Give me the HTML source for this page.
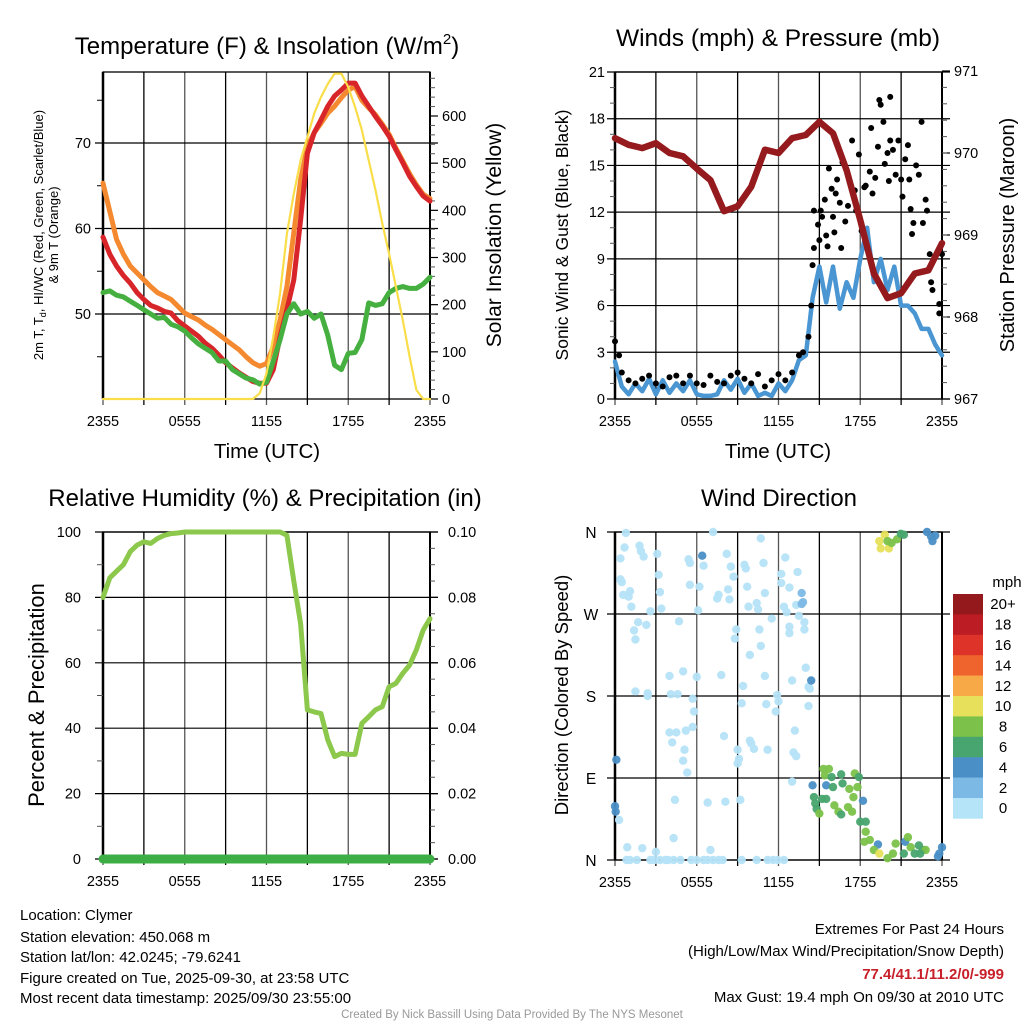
<!DOCTYPE html>
<html><head><meta charset="utf-8">
<style>
html,body{margin:0;padding:0;background:#fff;}
svg{display:block;font-family:"Liberation Sans",sans-serif;}
</style></head>
<body>
<svg id="chart" width="1024" height="1024" viewBox="0 0 1024 1024" xmlns="http://www.w3.org/2000/svg">
<rect width="1024" height="1024" fill="#fff"/>
<g id="p1"></g>
<g id="p2"></g>
<g id="p3"></g>
<g id="p4"></g>
<g font-size="15" fill="#000">
<text x="20" y="920">Location: Clymer</text>
<text x="20" y="942">Station elevation: 450.068 m</text>
<text x="20" y="962">Station lat/lon: 42.0245; -79.6241</text>
<text x="20" y="983">Figure created on Tue, 2025-09-30, at 23:58 UTC</text>
<text x="20" y="1003">Most recent data timestamp: 2025/09/30 23:55:00</text>
</g>
<g font-size="15" text-anchor="end">
<text x="1004" y="934">Extremes For Past 24 Hours</text>
<text x="1004" y="956">(High/Low/Max Wind/Precipitation/Snow Depth)</text>
<text x="1004" y="979" fill="#c8202a" font-weight="bold">77.4/41.1/11.2/0/-999</text>
<text x="1004" y="1002">Max Gust: 19.4 mph On 09/30 at 2010 UTC</text>
</g>
<text x="512" y="1018" font-size="11.5" fill="#999" text-anchor="middle">Created By Nick Bassill Using Data Provided By The NYS Mesonet</text>
</svg>
<script>
// ---------- data ----------
const hoursHalf = [];
for (let i = 0; i <= 48; i++) hoursHalf.push(i / 2);
const hoursFull = [];
for (let i = 0; i <= 24; i++) hoursFull.push(i);
const timeTickLabels = ["2355", "0555", "1155", "1755", "2355"];

const temp2m = [59,57,55.6,54.5,53.6,52.5,51.7,51,50.7,50.3,50.1,49.2,48.6,48,47.4,46.6,46,45.2,44.3,43.7,43.1,42.6,42.1,41.9,41.9,43.5,47.4,50.5,54,61,68.8,71.2,72.7,74.3,75.5,76.2,77,77,75.5,74.3,73.1,72,70.8,69.2,67.7,66.1,64.9,63.8,63.2];
const temp9m = [65.3,62,58.7,57,55.6,54.8,54,53.2,52.5,52.1,51.7,50.9,50.1,49.7,49.3,48.7,48.2,47.6,47,46.4,45.8,45,44.3,43.9,44.2,46.2,49.3,53.2,59.5,65.7,69.6,71.2,72.3,73.5,74.3,75.3,76.2,76.6,75,74.1,73.3,72.2,71,69.4,67.9,66.4,65.1,64,63.5];
const dewPoint = [52.5,52.7,52.2,52,51.5,51,50.5,50,49.5,49.6,48.8,48.5,48,47.2,46.5,46,45.5,44.5,44.5,43.5,43,42.5,42.3,41.8,42,44.5,47,50,51.2,50,50.3,49.5,50,47.5,44,43.5,45.4,45.5,47,51.3,51,51.2,52.5,53,53.2,53,53,53.5,54.3];
const solar = [0,0,0,0,0,0,0,0,0,0,0,0,0,0,0,0,0,0,0,0,0,0,0,12,54,132,224,350,435,506,555,605,640,668,690,690,661,619,570,506,443,372,308,238,167,90,19,0,0];
const tempTicks = [50, 60, 70];
const solarTicks = [0, 100, 200, 300, 400, 500, 600];

const windSpeed = [2.4,0.8,0.3,1,0.5,1.3,0.3,1.2,0.4,1,0.5,1.2,0.3,0.2,0.2,0.3,1.2,0.6,1.3,0.4,1,0.2,0.4,0.2,1,0.5,1.2,2.5,2.8,6.5,8.5,6.2,8.5,5.8,7.5,6.5,9,11,7.5,9,7,8.5,6,6,5.5,4.5,4.5,3.5,2.8];
const gustTime = [0,0.3,0.5,1,1.5,2,2.5,3,3.5,4,4.5,5,5.5,6,6.5,7,7.5,8,8.5,9,9.5,10,10.5,11,11.5,12,12.5,13,13.5,13.8,14.2,14.4,14.5,14.6,14.6,14.9,15,15.1,15.2,15.5,15.4,15.7,15.6,15.9,16,16.1,16.2,16.3,16.5,16.6,16.7,16.9,17.1,17.4,17.6,17.7,17.9,18.1,18.3,18.4,18.7,18.8,18.9,19.1,19.3,19.4,19.5,19.7,19.8,20,20.1,20.2,20.2,20.4,20.6,20.8,21,21.1,21.3,21.5,21.6,21.7,21.8,21.9,22.1,22.3,22.5,22.6,22.8,22.9,23.1,23.2,23.3,23.8,23.8,24];
const gustValue = [3.7,2.8,1.7,1.2,1,1.3,1.5,1,0.8,1.4,1.5,1,1.5,1,0.9,1.5,1.1,1,1.5,1.7,1.3,1,1.6,0.8,1.2,1.6,1.2,1.7,2.8,3,4,6,8.6,9.7,12.1,11.2,10.2,12.1,11.7,10.5,12.8,14.8,9.8,13.5,11.7,10.7,13.2,14.1,12.6,9.7,15.2,11.4,12.4,16.6,13.4,12.1,15.7,10.8,13.6,13.7,14.6,17.4,13.2,14.2,16.2,19.2,18.9,17.8,15.1,15.8,14,19.4,16.6,16,14.4,16.6,14.1,13,15.4,16.3,14.1,12.2,10.6,11.3,15,14.4,17.8,11.3,12.8,12.1,9.3,7.5,7,6.1,5.5,9.3];
const pressure = [970.18,970.1,970.06,970.12,970,969.96,969.81,969.67,969.29,969.35,969.59,970.04,970,970.18,970.22,970.38,970.24,969.79,969.18,968.53,968.23,968.29,968.53,968.57,968.9];
const windTicks = [0, 3, 6, 9, 12, 15, 18, 21];
const pressureTicks = [967, 968, 969, 970, 971];

const rh = [80,86,88,90,94,96,97,96.5,98,99,99.5,99.7,100,100,100,100,100,100,100,100,100,100,100,100,100,100,100,99,85,72,45.6,45,44.5,36.4,31.3,32.3,32,32,41.5,43.5,45.6,46.6,52.7,53.7,56.8,59.3,64,70,73.5];
const precip = [0,0,0,0,0,0,0,0,0,0,0,0,0,0,0,0,0,0,0,0,0,0,0,0,0];
const rhTicks = [0, 20, 40, 60, 80, 100];
const precipTicks = ["0.00", "0.02", "0.04", "0.06", "0.08", "0.10"];

const dirTime = [0.8,0.4,0.7,0.4,0.5,0.6,1.1,1.0,1.2,1.8,1.9,2.1,1.4,1.5,1.7,2.3,2.6,3.1,3.2,3.3,3.4,1.5,2.4,2.4,4.0,5.0,4.1,4.6,4.7,5.4,5.5,5.5,6.1,6.0,6.2,6.5,5.7,5.8,5.7,4.0,4.5,5.2,4.2,5.1,5.0,5.3,4.4,4.3,7.2,7.5,7.6,7.8,8.0,8.2,8.3,8.4,8.5,8.7,8.9,8.8,9.0,9.1,9.0,9.4,9.3,9.5,9.6,9.7,9.8,9.9,9.9,10.0,10.2,10.4,10.5,10.6,10.7,10.9,11.0,11.0,11.1,11.2,11.5,10.7,11.8,11.9,12.0,12.2,12.2,12.4,12.6,12.5,12.8,12.8,12.8,13.0,13.2,13.1,13.3,13.4,13.5,13.3,13.9,13.9,14.0,14.2,14.3,14.2,13.0,9.2,8.1,6.8,3.0,2.0,0.9,7.0,0.3,
0.85,1.1,1.6,2.6,2.9,3.3,3.7,3.9,4.3,4.8,5.6,6.0,6.5,6.8,7.2,7.6,7.9,9.3,10.4,11.2,11.6,11.95,12.4,
6.4,13.7,13.7,13.8,14.4,0.1,0.0,0.05,
15.3,15.7,15.4,15.9,14.5,15.5,16.0,16.6,16.7,17.2,17.6,17.9,17.8,17.5,18.2,14.6,14.7,14.8,15.2,15.5,15.0,16.1,16.4,16.6,17.1,17.4,18.0,18.4,18.4,18.7,18.3,19.3,19.0,19.4,20.0,20.4,20.6,21.2,21.3,21.5,21.7,22.0,22.3,22.6,22.8,22.4,23.7,23.8,24,
19.4,19.8,19.5,20.1,20.0,20.3,20.7,20.98,21.2,22.9,23.2,23.3,23.5];
const dirDeg = [359,331,343,308,305,291,295,289,278,345,339,333,252,242,261,258,273,336,313,294,276,185,183,180,202,207,182,182,262,330,326,302,274,201,300,323,177,163,146,140,140,142,129,121,109,96,66,24,360,287,291,203,136,336,297,286,322,311,253,243,121,111,106,191,172,324,320,300,278,225,131,128,122,282,275,253,235,326,293,202,171,121,265,353,163,181,174,314,304,278,272,332,256,249,299,197,142,118,114,316,268,280,261,253,211,190,188,169,86,66,64,63,9,13,14,11,44,
0,0,0,0,0,0,0,0,0,0,0,0,0,0,0,0,0,0,0,0,0,0,0,
334,293,281,283,197,110,59,53,
100,100,93,91,82,82,80,94,84,78,95,91,80,69,65,69,62,56,67,67,51,60,53,50,58,53,42,42,31,22,20,17,11,7,2,7,18,7,20,25,14,7,16,11,11,7,4,7,14,
350,357,342,342,350,348,352,358,357,360,355,350,356];
const dirSpeed = [].concat(
  Array(117).fill(0.5),
  Array(23).fill(0.5),
  [4,2,2,2,4,4,4,4],
  [8,8,8,7,4,4,6,6,6,8,8,7,8,8,4,6,6,6,6,6,8,8,8,6,8,8,6,6,8,8,8,4,8,10,8,8,8,6,4,8,8,6,6,6,8,6,4,4,4],
  [10,10,10,10,8,8,8,6,6,4,4,4,4]
);
const speedBinColors = ["#b5e3f8","#7db9e5","#4a8fc6","#48a56f","#7cc24a","#e6e05a","#f6a946","#ef642c","#dd3328","#bc1c24","#93191c"];
const speedBinLabels = ["0","2","4","6","8","10","12","14","16","18","20+"];
const dirTicks = [0, 90, 180, 270, 360];
const dirTickLabels = ["N", "E", "S", "W", "N"];

// ---------- helpers ----------
const NS = "http://www.w3.org/2000/svg";
function mk(parent, tag, attrs, text) {
  const e = document.createElementNS(NS, tag);
  for (const k in attrs) e.setAttribute(k, attrs[k]);
  if (text !== undefined) e.textContent = text;
  parent.appendChild(e);
  return e;
}
function lin(d0, d1, r0, r1) { return v => r0 + (v - d0) / (d1 - d0) * (r1 - r0); }

function frame(g, L, R, T, B, hTicksY, xScale) {
  for (let h = 0; h <= 24; h += 3) {
    const x = xScale(h);
    const ln = mk(g, "line", {x1: x, x2: x, y1: T, y2: B + 6, stroke: (h % 6 === 3) ? "#000" : "#555", "stroke-width": 1.3});
    
    
  }
  hTicksY.forEach(y => {
    const ln = mk(g, "line", {x1: L - 8, x2: R + 8, y1: y, y2: y, stroke: "#000", "stroke-width": 1.2});
    
    
  });
  const bx = mk(g, "rect", {x: L, y: T, width: R - L, height: B - T, fill: "none", stroke: "#000", "stroke-width": 1.3});
  
  
  mk(g, "line", {x1: L, x2: L, y1: T, y2: B, stroke: "#000", "stroke-width": 2.5});
  mk(g, "line", {x1: R, x2: R, y1: T, y2: B, stroke: "#000", "stroke-width": 2});
  [0, 6, 12, 18, 24].forEach((h, i) => {
    const t = mk(g, "text", {x: xScale(h), y: B + 27, "font-size": 14.5, "text-anchor": "middle"}, timeTickLabels[i]);
    
    
  });
}
function path(g, xs, ys, xS, yS, color, w, name) {
  let d = "";
  xs.forEach((x, i) => { d += (i ? "L" : "M") + xS(x).toFixed(1) + "," + yS(ys[i]).toFixed(1); });
  const p = mk(g, "path", {d: d, fill: "none", stroke: color, "stroke-width": w, "stroke-linejoin": "round", "stroke-linecap": "round"});
  
  
  return p;
}
function text(g, x, y, s, size, name, extra) {
  const a = Object.assign({x: x, y: y, "font-size": size, "text-anchor": "middle"}, extra || {});
  const t = mk(g, "text", a, s);
  
  
  return t;
}

// ---------- panel 1 ----------
(function(){
  const g = document.getElementById("p1");
  const L = 103, R = 430, T = 72, B = 399;
  const x = lin(0, 24, L, R), y = lin(50, 70, 314, 143), ys = lin(0, 600, 399, 116);
  frame(g, L, R, T, B, tempTicks.map(y), x);
  tempTicks.forEach(v => text(g, L - 12, y(v) + 5, String(v), 14.5, "temp-tick-label", {"text-anchor": "end"}));
  [45, 55, 65, 75].forEach(v => mk(g, "line", {x1: L - 6, x2: L, y1: y(v), y2: y(v), stroke: "#000"}));
  solarTicks.forEach(v => {
    mk(g, "line", {x1: R, x2: R + 8, y1: ys(v), y2: ys(v), stroke: "#000", "stroke-width": 1.2});
    text(g, R + 12, ys(v) + 5, String(v), 14.5, "solar-tick-label", {"text-anchor": "start"});
  });
  for (let v = 20; v <= 680; v += 20) if (v % 100) mk(g, "line", {x1: R, x2: R + 5, y1: ys(v), y2: ys(v), stroke: "#555"});
  path(g, hoursHalf, temp9m, x, y, "#f4892f", 5, "temp-9m-line");
  path(g, hoursHalf, temp2m, x, y, "#d7252a", 5, "temp-2m-line");
  path(g, hoursHalf, dewPoint, x, y, "#45b03f", 5, "dewpoint-line");
  path(g, hoursHalf, solar, x, ys, "#f9de4a", 2.2, "solar-line");
  const t = text(g, 267, 54, "", 24, "chart-title");
  t.innerHTML = 'Temperature (F) &amp; Insolation (W/m<tspan font-size="15" dy="-10">2</tspan><tspan dy="10">)</tspan>';
  text(g, 267, 458, "Time (UTC)", 20.5, "x-axis-title");
  const yl = text(g, 0, 0, "", 13, "y-axis-title-left", {transform: "translate(43,235) rotate(-90)"});
  yl.innerHTML = '2m T, T<tspan font-size="9" dy="3">d</tspan><tspan dy="-3">, HI/WC (Red, Green, Scarlet/Blue)</tspan>';
  text(g, 0, 0, "& 9m T (Orange)", 13, "y-axis-title-left-2", {transform: "translate(58,235) rotate(-90)"});
  text(g, 0, 0, "Solar Insolation (Yellow)", 21, "y-axis-title-right", {transform: "translate(501,235) rotate(-90)"});
})();

// ---------- panel 2 ----------
(function(){
  const g = document.getElementById("p2");
  const L = 615, R = 942, T = 72, B = 399;
  const x = lin(0, 24, L, R), y = lin(0, 21, 399, 72), yp = lin(967, 971, 399, 71);
  frame(g, L, R, T, B, windTicks.map(y), x);
  windTicks.forEach(v => text(g, L - 10, y(v) + 5, String(v), 14.5, "wind-tick-label", {"text-anchor": "end"}));
  for (let v = 1; v < 21; v++) if (v % 3) mk(g, "line", {x1: L - 5, x2: L, y1: y(v), y2: y(v), stroke: "#555"});
  pressureTicks.forEach(v => {
    mk(g, "line", {x1: R, x2: R + 8, y1: yp(v), y2: yp(v), stroke: "#000", "stroke-width": 1.2});
    text(g, R + 12, yp(v) + 5, String(v), 14.5, "pressure-tick-label", {"text-anchor": "start"});
  });
  for (let v = 967.2; v < 971; v += 0.2) mk(g, "line", {x1: R, x2: R + 5, y1: yp(v), y2: yp(v), stroke: "#555"});
  path(g, hoursHalf, windSpeed, x, y, "#4a96d2", 4.5, "wind-speed-line");
  gustTime.forEach((t, i) => {
    const c = mk(g, "circle", {cx: x(t), cy: y(gustValue[i]), r: 3, fill: "#000"});
    
    
  });
  path(g, hoursFull, pressure, x, yp, "#951a1d", 6.5, "pressure-line");
  text(g, 778, 46, "Winds (mph) & Pressure (mb)", 24.5, "chart-title");
  text(g, 778, 458, "Time (UTC)", 20.5, "x-axis-title");
  text(g, 0, 0, "Sonic Wind & Gust (Blue, Black)", 17.5, "y-axis-title-left", {transform: "translate(568,235) rotate(-90)"});
  text(g, 0, 0, "Station Pressure (Maroon)", 20, "y-axis-title-right", {transform: "translate(1014,235) rotate(-90)"});
})();

// ---------- panel 3 ----------
(function(){
  const g = document.getElementById("p3");
  const L = 103, R = 430, T = 532, B = 859;
  const x = lin(0, 24, L, R), y = lin(0, 100, 859, 532), yp = lin(0, 0.1, 859, 532);
  frame(g, L, R, T, B, rhTicks.map(y), x);
  rhTicks.forEach(v => text(g, L - 22, y(v) + 5, String(v), 14.5, "rh-tick-label", {"text-anchor": "end"}));
  for (let v = 10; v < 100; v += 20) mk(g, "line", {x1: L - 6, x2: L, y1: y(v), y2: y(v), stroke: "#555"});
  precipTicks.forEach((s, i) => {
    const yy = y(i * 20);
    mk(g, "line", {x1: R, x2: R + 8, y1: yy, y2: yy, stroke: "#000", "stroke-width": 1.2});
    text(g, R + 18, yy + 5, s, 14.5, "precip-tick-label", {"text-anchor": "start"});
  });
  for (let v = 5; v < 100; v += 5) if (v % 20) mk(g, "line", {x1: R, x2: R + 5, y1: y(v), y2: y(v), stroke: "#555"});
  path(g, hoursHalf, rh, x, y, "#8cc84b", 5, "rh-line");
  path(g, hoursFull, precip, x, yp, "#3cae45", 9, "precip-line");
  text(g, 265, 506, "Relative Humidity (%) & Precipitation (in)", 24, "chart-title");
  text(g, 0, 0, "Percent & Precipitation", 22, "y-axis-title-left", {transform: "translate(44,695) rotate(-90)"});
})();

// ---------- panel 4 ----------
(function(){
  const g = document.getElementById("p4");
  const L = 615, R = 942, T = 532, B = 860;
  const x = lin(0, 24, L, R), y = lin(0, 360, 860, 532);
  frame(g, L, R, T, B, dirTicks.map(y), x);
  dirTicks.forEach((v, i) => text(g, L - 24, y(v) + 6, dirTickLabels[i], 15.5, "direction-tick-label", {"text-anchor": "middle"}));
  dirTime.forEach((t, i) => {
    const bin = Math.min(10, Math.round(dirSpeed[i] / 2 - 0.01));
    const c = mk(g, "circle", {cx: x(t), cy: y(dirDeg[i]), r: 4.2, fill: speedBinColors[bin], "fill-opacity": 0.95});
    
    
  });
  text(g, 779, 506, "Wind Direction", 24, "chart-title");
  text(g, 0, 0, "Direction (Colored By Speed)", 18.5, "y-axis-title-left", {transform: "translate(568,695) rotate(-90)"});
  const cb = mk(g, "g", {});
  
  
  const top = 594, bh = 20.4;
  speedBinColors.slice().reverse().forEach((c, i) => {
    const r = mk(cb, "rect", {x: 953, y: top + i * bh, width: 30, height: bh + 0.3, fill: c});
    
    
    text(cb, 1003, top + i * bh + bh / 2 + 5, speedBinLabels[10 - i], 15, "colorbar-label");
  });
  text(cb, 1007, 587, "mph", 15, "colorbar-title");
})();
</script>
</body></html>
